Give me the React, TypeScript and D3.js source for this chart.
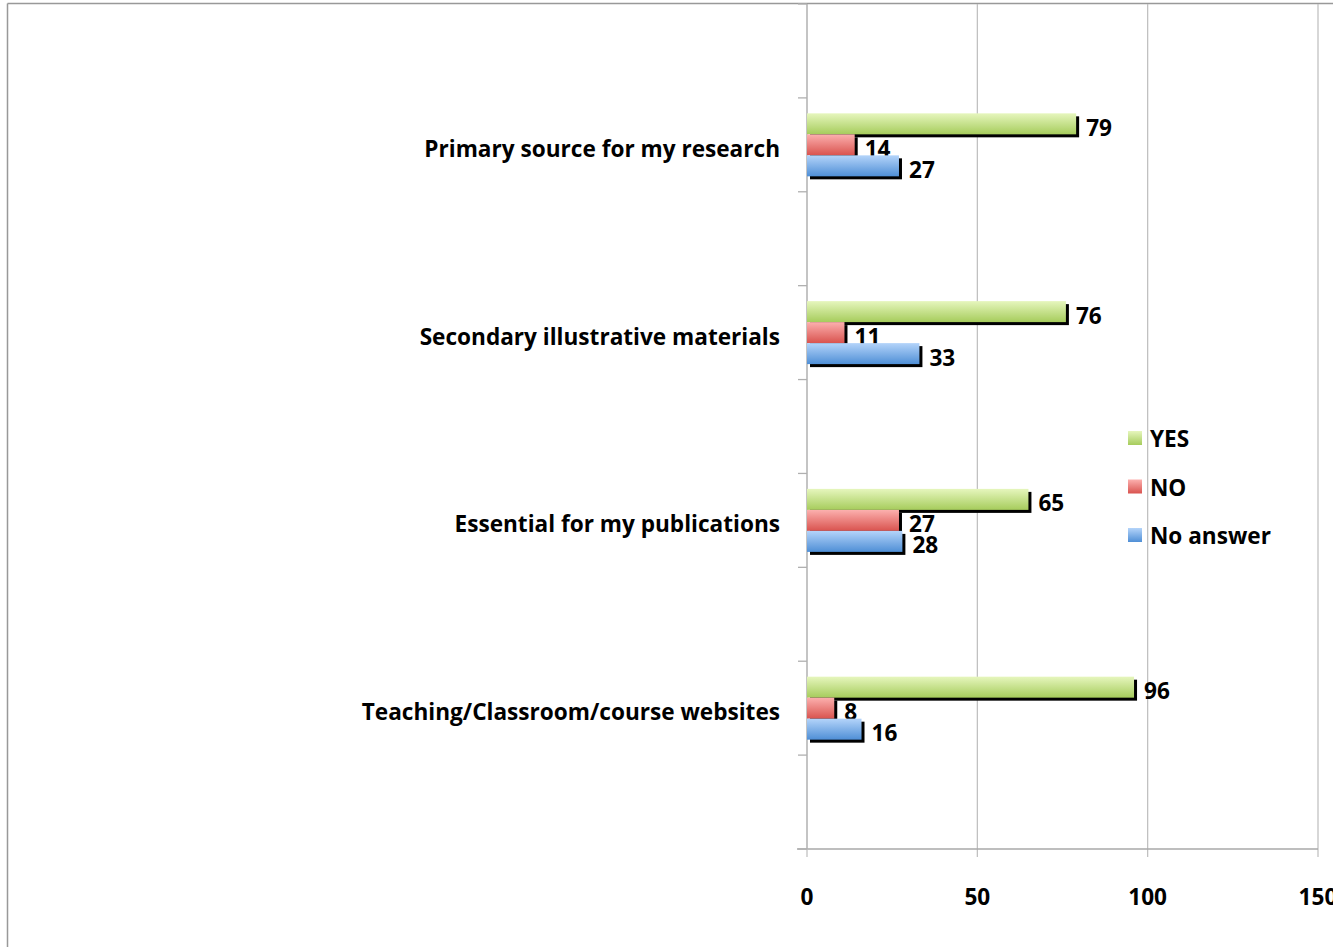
import React from "react";
import * as d3 from "d3";

const categories = [
  "Primary source for my research",
  "Secondary illustrative materials",
  "Essential for my publications",
  "Teaching/Classroom/course websites",
];
const seriesNames = ["YES", "NO", "No answer"];
const yesValues = [79, 76, 65, 96];
const noValues = [14, 11, 27, 8];
const noAnswerValues = [27, 33, 28, 16];
const xTicks = [0, 50, 100, 150];

const seriesValues = [yesValues, noValues, noAnswerValues];
const gradients = [
  { id: "gYes", top: "#e6f6bd", bottom: "#a6cc5c" },
  { id: "gNo", top: "#fcb0ae", bottom: "#d9534f" },
  { id: "gNa", top: "#b4d4fa", bottom: "#4f8fd6" },
];

const W = 1333;
const H = 947;
const FONT = "'Open Sans', Lato, sans-serif";
const FS = 22.6;

export default function App() {
  const plotLeft = 807;
  const plotRight = 1318;
  const plotTop = 4;
  const plotBottom = 849;

  const x = d3.scaleLinear().domain([0, 150]).range([plotLeft, plotRight]);
  const slots = d3.range(categories.length * 2 + 1);
  const band = d3.scaleBand<number>().domain(slots).range([plotTop, plotBottom]);
  const inner = d3
    .scaleBand<number>()
    .domain(d3.range(seriesNames.length))
    .range([0, band.bandwidth()])
    .paddingOuter(0.5 * ((band.bandwidth() - 63) / 21));

  const boundaries = slots.map((s) => band(s)!).concat([plotBottom]);

  return (
    <svg
      width={W}
      height={H}
      style={{ position: "absolute", left: 0, top: 0, background: "#fff" }}
      fontFamily={FONT}
    >
      <defs>
        {gradients.map((g) => (
          <linearGradient key={g.id} id={g.id} x1="0" y1="0" x2="0" y2="1">
            <stop offset="0%" stopColor={g.top} />
            <stop offset="100%" stopColor={g.bottom} />
          </linearGradient>
        ))}
      </defs>
      <rect x={0} y={0} width={W} height={H} fill="#fff" />
      {/* outer border */}
      <line x1={7.5} y1={3.5} x2={W} y2={3.5} stroke="#999" strokeWidth={1.5} />
      <line x1={7.5} y1={3.5} x2={7.5} y2={H} stroke="#999" strokeWidth={1.5} />

      {/* gridlines */}
      {xTicks.slice(1).map((t) => (
        <line key={"g" + t} x1={x(t)} x2={x(t)} y1={plotTop} y2={plotBottom + 8} stroke="#bdbdbd" strokeWidth={1.2} />
      ))}
      {/* x axis */}
      <line x1={plotLeft - 10} x2={plotRight} y1={plotBottom} y2={plotBottom} stroke="#a8a8a8" strokeWidth={1.3} />
      <line x1={plotLeft} x2={plotLeft} y1={plotBottom} y2={plotBottom + 8} stroke="#bdbdbd" strokeWidth={1.2} />
      {/* y axis */}
      <line x1={plotLeft} x2={plotLeft} y1={plotTop} y2={plotBottom} stroke="#b0b0b0" strokeWidth={1.5} />
      {boundaries.map((b, i) => (
        <line key={"t" + i} x1={plotLeft - 9} x2={plotLeft} y1={b} y2={b} stroke="#b0b0b0" strokeWidth={1.3} />
      ))}

      {/* x tick labels */}
      {xTicks.map((t) => (
        <text key={"xl" + t} x={x(t)} y={905} textAnchor="middle" fontSize={FS} fontWeight="bold" fill="#000">
          {t}
        </text>
      ))}

      {/* bars */}
      {categories.map((c, ci) => {
        const y0 = band(ci * 2 + 1)!;
        return (
          <g key={c}>
            <text
              x={780}
              y={y0 + band.bandwidth() / 2 + 12}
              textAnchor="end"
              fontSize={FS}
              fontWeight="bold"
              fill="#000"
            >
              {c}
            </text>
            {seriesValues.map((vals, si) => {
              const by = y0 + inner(si)!;
              const bh = inner.bandwidth();
              const w = x(vals[ci]) - x(0);
              return (
                <g key={si}>
                  <rect x={x(0) + 3} y={by + 3} width={w} height={bh} fill="#000" />
                  <rect x={x(0)} y={by} width={w} height={bh} fill={`url(#${gradients[si].id})`} />
                  <text
                    x={x(vals[ci]) + 10}
                    y={by + bh / 2 + 12}
                    fontSize={FS}
                    fontWeight="bold"
                    fill="#000"
                  >
                    {vals[ci]}
                  </text>
                </g>
              );
            })}
          </g>
        );
      })}

      {/* legend */}
      {seriesNames.map((s, i) => {
        const ly = 439 + i * 48.5;
        return (
          <g key={s}>
            <rect x={1128} y={ly - 8} width={14} height={14} fill={`url(#${gradients[i].id})`} />
            <text x={1150} y={ly + 8} fontSize={FS} fontWeight="bold" fill="#000">
              {s}
            </text>
          </g>
        );
      })}
    </svg>
  );
}
